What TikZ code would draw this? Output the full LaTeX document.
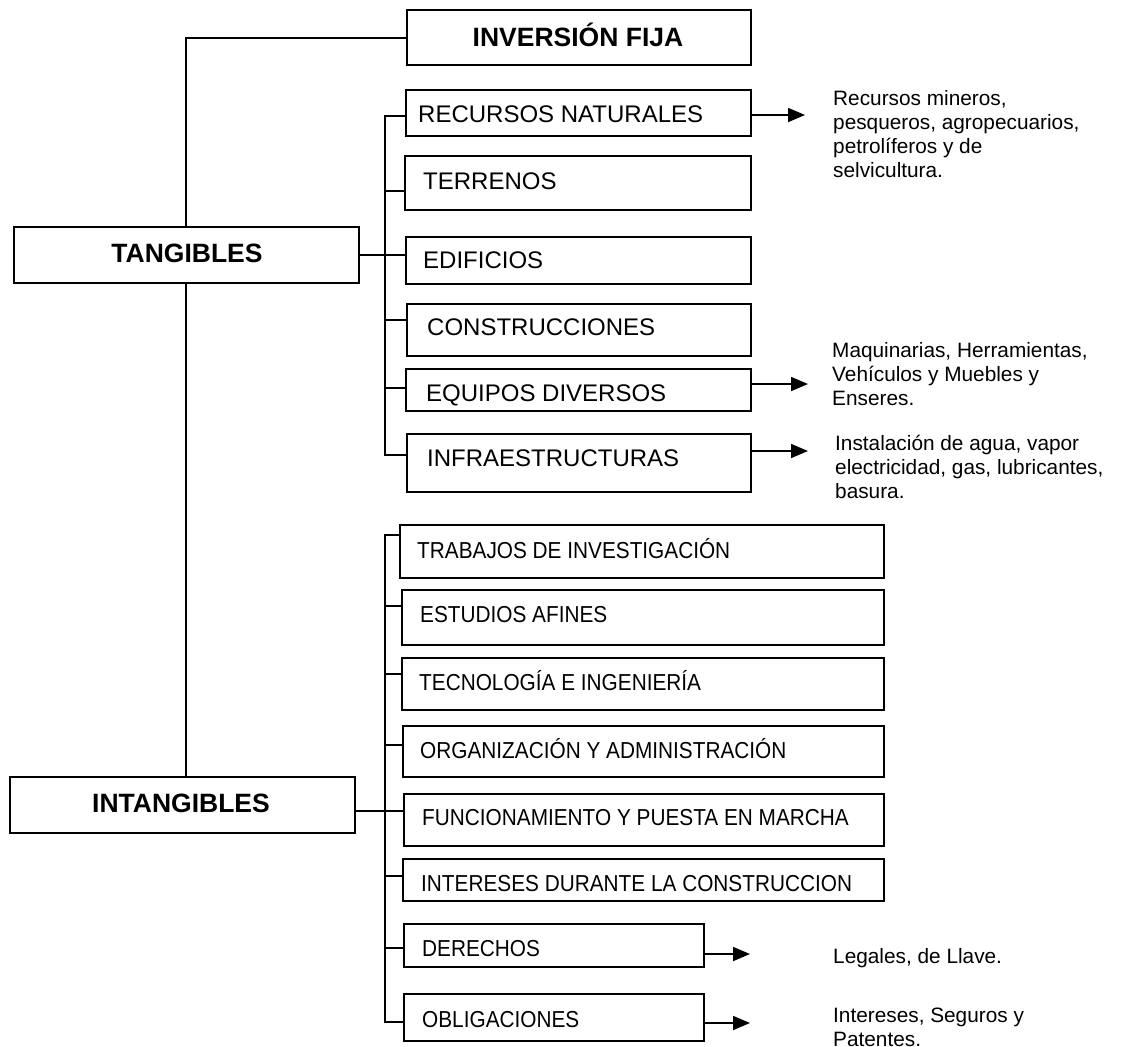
\documentclass[tikz,border=0pt]{standalone}
\usepackage{fontspec}
\usepackage{graphicx}
\setmainfont{Liberation Sans}
\usetikzlibrary{arrows.meta}
\newcommand\narrowtxt[1]{\scalebox{0.9}[1]{#1}}
\begin{document}
\begin{tikzpicture}[x=1pt,y=-1pt,
  bx/.style={draw, line width=1.8pt, anchor=north west, inner sep=0pt},
  ttl/.style={anchor=base, inner sep=0pt, font=\fontsize{26.5}{30}\selectfont\bfseries},
  tg/.style={anchor=base west, inner sep=0pt, font=\fontsize{24}{28}\selectfont},
  ti/.style={anchor=base west, inner sep=0pt, font=\fontsize{23.1}{28}\selectfont},
  note/.style={anchor=base west, inner sep=0pt, align=left, font=\fontsize{20.8}{24}\selectfont},
  ln/.style={line width=1.8pt},
  arr/.style={line width=1.8pt, -{Triangle[length=17pt,width=14pt]}}]
\useasboundingbox (0,0) rectangle (1122,1047);
% boxes
\node[bx, minimum width=344pt, minimum height=55pt] (inv) at (406,9) {};
\node[bx, minimum width=345pt, minimum height=56pt] (tang) at (13,226) {};
\node[bx, minimum width=345pt, minimum height=56pt] (intang) at (9,776) {};
\node[bx, minimum width=345pt, minimum height=46pt] (rec) at (405,89) {};
\node[bx, minimum width=346pt, minimum height=54pt] (ter) at (404,155) {};
\node[bx, minimum width=345pt, minimum height=47pt] (edi) at (405,236) {};
\node[bx, minimum width=344pt, minimum height=52pt] (con) at (406,303) {};
\node[bx, minimum width=345pt, minimum height=42pt] (equ) at (405,368) {};
\node[bx, minimum width=344pt, minimum height=58pt] (inf) at (406,433) {};
\node[bx, minimum width=484pt, minimum height=53pt] (tra) at (399,524) {};
\node[bx, minimum width=482pt, minimum height=55pt] (est) at (401,589) {};
\node[bx, minimum width=482pt, minimum height=52pt] (tec) at (401,657) {};
\node[bx, minimum width=481pt, minimum height=51pt] (org) at (402,725) {};
\node[bx, minimum width=480pt, minimum height=52pt] (fun) at (403,793) {};
\node[bx, minimum width=481pt, minimum height=42pt] (int) at (402,858) {};
\node[bx, minimum width=300pt, minimum height=43pt] (der) at (403,923) {};
\node[bx, minimum width=300pt, minimum height=47pt] (obl) at (403,993) {};
% titles
\node[ttl] (invT) at (578,46) {INVERSIÓN FIJA};
\node[ttl] (tangT) at (187,262) {TANGIBLES};
\node[ttl] (intangT) at (181,812) {INTANGIBLES};
% box texts
\node[tg] (recT) at (418,122) {RECURSOS NATURALES};
\node[tg] (terT) at (423,189) {TERRENOS};
\node[tg] (ediT) at (423,268) {EDIFICIOS};
\node[tg] (conT) at (427,335) {CONSTRUCCIONES};
\node[tg] (equT) at (426,401) {EQUIPOS DIVERSOS};
\node[tg] (infT) at (427,466) {INFRAESTRUCTURAS};
\node[ti] (traT) at (417,558) {\narrowtxt{TRABAJOS DE INVESTIGACIÓN}};
\node[ti] (estT) at (420,622) {\narrowtxt{ESTUDIOS AFINES}};
\node[ti] (tecT) at (419,690) {\narrowtxt{TECNOLOGÍA E INGENIERÍA}};
\node[ti] (orgT) at (420,758) {\narrowtxt{ORGANIZACIÓN Y ADMINISTRACIÓN}};
\node[ti] (funT) at (422,825) {\narrowtxt{FUNCIONAMIENTO Y PUESTA EN MARCHA}};
\node[ti] (intT) at (421,891) {\narrowtxt{INTERESES DURANTE LA CONSTRUCCION}};
\node[ti] (derT) at (422,956) {\narrowtxt{DERECHOS}};
\node[ti] (oblT) at (422,1027) {\narrowtxt{OBLIGACIONES}};
% notes (base anchor = last line)
\node[note] (n1) at (833,177) {Recursos mineros,\\pesqueros, agropecuarios,\\petrolíferos y de\\selvicultura.};
\node[note] (n2) at (832,405) {Maquinarias, Herramientas,\\Vehículos y Muebles y\\Enseres.};
\node[note] (n3) at (835,498) {Instalación de agua, vapor\\electricidad, gas, lubricantes,\\basura.};
\node[note] (n4) at (833,963) {Legales, de Llave.};
\node[note] (n5) at (833,1046) {Intereses, Seguros y\\Patentes.};
% top connectors
\coordinate (c0) at (186,38);
\draw[ln] (c0 |- tang.north) -- (c0) -- (c0 -| inv.west);
\draw[ln] (c0 |- tang.south) -- (c0 |- intang.north);
% tangibles trunk
\coordinate (t1) at (385,116);
\coordinate (t2) at (385,191);
\coordinate (t3) at (385,255);
\coordinate (t4) at (385,320);
\coordinate (t5) at (385,388);
\coordinate (t6) at (385,455);
\draw[ln] (t1 -| rec.west) -- (t1) -- (t6) -- (t6 -| inf.west);
\draw[ln] (t2) -- (t2 -| ter.west);
\draw[ln] (tang.east |- t3) -- (t3 -| edi.west);
\draw[ln] (t4) -- (t4 -| con.west);
\draw[ln] (t5) -- (t5 -| equ.west);
% intangibles trunk
\coordinate (i1) at (385,535);
\coordinate (i2) at (385,606);
\coordinate (i3) at (385,674);
\coordinate (i4) at (385,745);
\coordinate (i5) at (385,811);
\coordinate (i6) at (385,876);
\coordinate (i7) at (385,948);
\coordinate (i8) at (385,1022);
\draw[ln] (i1 -| tra.west) -- (i1) -- (i8) -- (i8 -| obl.west);
\draw[ln] (i2) -- (i2 -| est.west);
\draw[ln] (i3) -- (i3 -| tec.west);
\draw[ln] (i4) -- (i4 -| org.west);
\draw[ln] (intang.east |- i5) -- (i5 -| fun.west);
\draw[ln] (i6) -- (i6 -| int.west);
\draw[ln] (i7) -- (i7 -| der.west);
% arrows
\coordinate (a1) at (805,115);
\coordinate (a2) at (808,384);
\coordinate (a3) at (808,451);
\coordinate (a4) at (750,954);
\coordinate (a5) at (750,1023);
\draw[arr] (a1 -| rec.east) -- (a1);
\draw[arr] (a2 -| equ.east) -- (a2);
\draw[arr] (a3 -| inf.east) -- (a3);
\draw[arr] (a4 -| der.east) -- (a4);
\draw[arr] (a5 -| obl.east) -- (a5);
\end{tikzpicture}
\end{document}
